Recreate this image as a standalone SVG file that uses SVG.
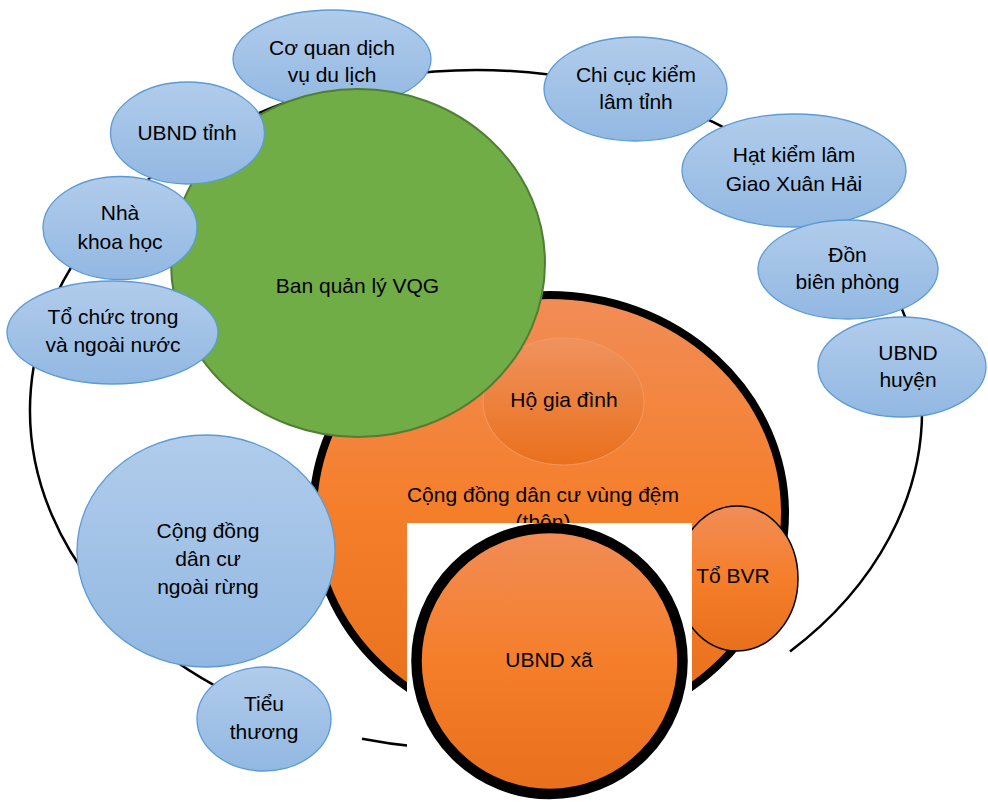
<svg xmlns="http://www.w3.org/2000/svg" width="988" height="802" viewBox="0 0 988 802">
<defs>
  <linearGradient id="gBlue" x1="0" y1="0" x2="0" y2="1">
    <stop offset="0" stop-color="#b1cceb"/>
    <stop offset="1" stop-color="#92b8e2"/>
  </linearGradient>
  <linearGradient id="gOrange" x1="0" y1="0" x2="0" y2="1">
    <stop offset="0" stop-color="#f18d57"/>
    <stop offset="0.5" stop-color="#f57e2a"/>
    <stop offset="1" stop-color="#e8701c"/>
  </linearGradient>
  <linearGradient id="gOrange2" x1="0" y1="0" x2="0" y2="1">
    <stop offset="0" stop-color="#f0925e"/>
    <stop offset="1" stop-color="#e9701c"/>
  </linearGradient>
  <style>
    .blue { fill: url(#gBlue); stroke: #5b9bd5; stroke-width: 1.3; }
    .orange { fill: url(#gOrange); }
    .t { font-family: "Liberation Sans", Arial, sans-serif; font-size: 21px; fill: #000; text-anchor: middle; }
    .ring { fill: none; stroke: #000; stroke-width: 2.5; }
  </style>
</defs>
<rect x="0" y="0" width="988" height="802" fill="#fff"/>

<g id="connectors">
  <path class="ring" d="M 300 722.4 A 446 340 0 1 1 790 651.5"/>
  <path class="ring" d="M 362 738.7 A 446 340 0 0 0 420 747"/>
</g>

<g id="node-congdong-vungdem">
  <ellipse class="orange" cx="549" cy="513" rx="236" ry="218" stroke="#000" stroke-width="8"/>
  <text class="t" x="543" y="502">Cộng đồng dân cư vùng đệm</text>
  <text class="t" x="543" y="529">(thôn)</text>
</g>

<g id="node-hogiadinh">
  <ellipse cx="563.5" cy="401.5" rx="80.5" ry="63.5" fill="url(#gOrange2)" stroke="#f39a62" stroke-width="1"/>
  <text class="t" x="564" y="407">Hộ gia đình</text>
</g>

<g id="node-coquan">
  <ellipse class="blue" cx="332" cy="59" rx="99" ry="49"/>
  <text class="t" x="332" y="55">Cơ quan dịch</text>
  <text class="t" x="332" y="82">vụ du lịch</text>
</g>

<g id="node-banquanly">
  <ellipse cx="358" cy="263" rx="187" ry="174" fill="#70ad47" stroke="#507e32" stroke-width="2"/>
  <text class="t" x="357.5" y="293">Ban quản lý VQG</text>
</g>

<g id="node-ubndtinh">
  <ellipse class="blue" cx="187.5" cy="133" rx="77" ry="51"/>
  <text class="t" x="187" y="140">UBND tỉnh</text>
</g>

<g id="node-nhakhoahoc">
  <ellipse class="blue" cx="120" cy="228" rx="77" ry="51.5"/>
  <text class="t" x="120" y="220">Nhà</text>
  <text class="t" x="120" y="249">khoa học</text>
</g>

<g id="node-tochuc">
  <ellipse class="blue" cx="112.5" cy="332.5" rx="105.5" ry="51.5"/>
  <text class="t" x="113" y="324">Tổ chức trong</text>
  <text class="t" x="113" y="352">và ngoài nước</text>
</g>

<g id="node-ngoairung">
  <ellipse class="blue" cx="206" cy="551" rx="129" ry="116"/>
  <text class="t" x="208" y="538">Cộng đồng</text>
  <text class="t" x="208" y="566">dân cư</text>
  <text class="t" x="208" y="594">ngoài rừng</text>
</g>

<g id="node-tieuthuong">
  <ellipse class="blue" cx="264" cy="719" rx="67" ry="52"/>
  <text class="t" x="264" y="711">Tiểu</text>
  <text class="t" x="264" y="739">thương</text>
</g>

<g id="node-chicuc">
  <ellipse class="blue" cx="635.5" cy="89" rx="91.5" ry="52"/>
  <text class="t" x="636" y="82">Chi cục kiểm</text>
  <text class="t" x="636" y="109">lâm tỉnh</text>
</g>

<g id="node-hatkiemlam">
  <ellipse class="blue" cx="794" cy="170.5" rx="112" ry="56.5"/>
  <text class="t" x="794" y="162">Hạt kiểm lâm</text>
  <text class="t" x="794" y="191">Giao Xuân Hải</text>
</g>

<g id="node-donbienphong">
  <ellipse class="blue" cx="848" cy="269.5" rx="90" ry="49.5"/>
  <text class="t" x="847.5" y="262">Đồn</text>
  <text class="t" x="847.5" y="289">biên phòng</text>
</g>

<g id="node-ubndhuyen">
  <ellipse class="blue" cx="902" cy="367" rx="84" ry="50"/>
  <text class="t" x="908" y="360">UBND</text>
  <text class="t" x="908" y="387">huyện</text>
</g>

<g id="node-tobvr">
  <ellipse class="orange" cx="737" cy="578.5" rx="61" ry="72.5" stroke="#000" stroke-width="1.5"/>
  <text class="t" x="733" y="583">Tổ BVR</text>
</g>

<rect x="407" y="523" width="285" height="279" fill="#fff"/>

<g id="node-ubndxa">
  <circle class="orange" cx="549.5" cy="661" r="133" stroke="#000" stroke-width="10.5"/>
  <text class="t" x="549" y="667">UBND xã</text>
</g>
</svg>
